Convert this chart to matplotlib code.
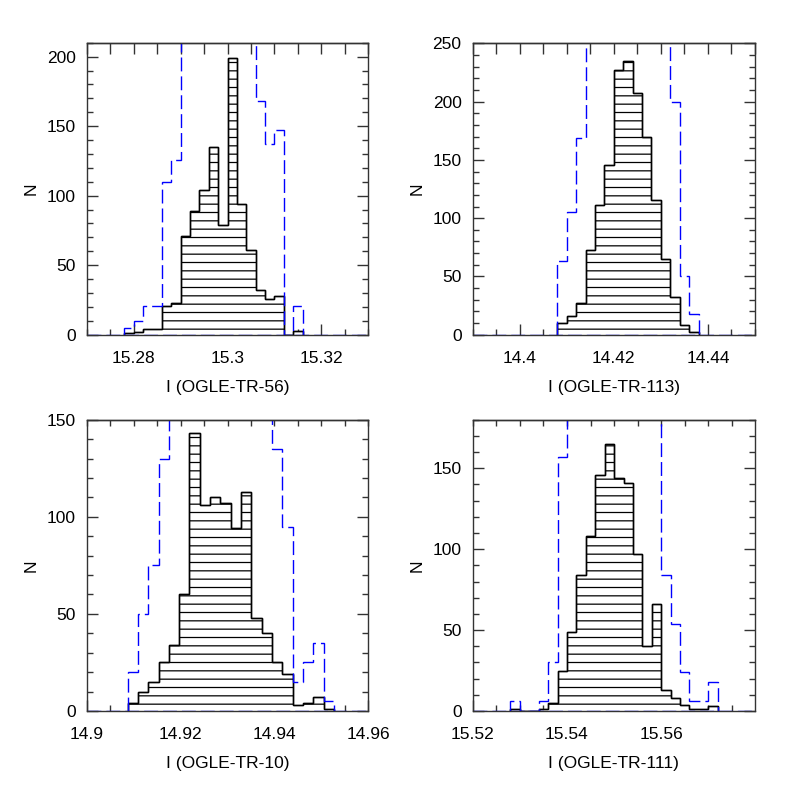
import matplotlib
matplotlib.use("Agg")
import matplotlib.pyplot as plt
import numpy as np
from matplotlib.ticker import MultipleLocator, FixedLocator, NullFormatter

plt.rcParams['font.family'] = ['Liberation Sans', 'DejaVu Sans']
plt.rcParams['font.size'] = 12.5
plt.rcParams['hatch.linewidth'] = 0.9
plt.rcParams['hatch.color'] = 'black'

# ---------------- data ----------------
# OGLE-TR-56
tr56_start = 15.278
tr56_width = 0.002
tr56_black = [1, 2, 4, 4, 21, 23, 71, 89, 104, 135, 79, 199, 94, 61, 32, 26, 28, 0, 3]
tr56_blue = [5, 10, 21, 21, 110, 126, 230, 280, 320, 340, 360, 330, 290, 240, 168, 137, 147, 0, 21]
tr56_xlim = (15.27, 15.33)
tr56_ylim = (0, 210)
tr56_xticks = [15.28, 15.30, 15.32]
tr56_xticklabels = ['15.28', '15.3', '15.32']
tr56_yticks = [0, 50, 100, 150, 200]

# OGLE-TR-113
tr113_start = 14.408
tr113_width = 0.002
tr113_black = [10, 16, 27, 73, 111, 146, 227, 235, 207, 170, 116, 65, 32, 8, 2]
tr113_blue = [63, 105, 169, 270, 320, 360, 380, 390, 370, 340, 300, 260, 200, 50, 18]
tr113_xlim = (14.39, 14.45)
tr113_ylim = (0, 250)
tr113_xticks = [14.40, 14.42, 14.44]
tr113_xticklabels = ['14.4', '14.42', '14.44']
tr113_yticks = [0, 50, 100, 150, 200, 250]

# OGLE-TR-10
tr10_start = 14.9087
tr10_width = 0.0022
tr10_black = [4, 10, 15, 25, 34, 60, 143, 106, 110, 107, 94, 113, 48, 40, 25, 19, 3, 4, 7, 1]
tr10_blue = [20, 50, 75, 130, 170, 200, 220, 230, 235, 225, 215, 200, 180, 160, 135, 95, 15, 25, 35, 5]
tr10_xlim = (14.90, 14.96)
tr10_ylim = (0, 150)
tr10_xticks = [14.90, 14.92, 14.94, 14.96]
tr10_xticklabels = ['14.9', '14.92', '14.94', '14.96']
tr10_yticks = [0, 50, 100, 150]

# OGLE-TR-111
tr111_start = 15.528
tr111_width = 0.002
tr111_black = [1, 0, 0, 1, 5, 25, 49, 84, 108, 146, 165, 144, 141, 97, 40, 66, 13, 8, 4, 1, 1, 3]
tr111_blue = [6, 0, 0, 6, 30, 157, 200, 240, 280, 300, 310, 300, 280, 250, 220, 190, 84, 54, 24, 6, 6, 18]
tr111_xlim = (15.52, 15.5799)
tr111_ylim = (0, 180)
tr111_xticks = [15.52, 15.54, 15.56]
tr111_xticklabels = ['15.52', '15.54', '15.56']
tr111_yticks = [0, 50, 100, 150]

panels = [
    ("I (OGLE-TR-56)", tr56_start, tr56_width, tr56_black, tr56_blue, tr56_xlim, tr56_ylim,
     tr56_xticks, tr56_xticklabels, tr56_yticks, [0.1088, 0.5800, 0.3533, 0.3664], True),
    ("I (OGLE-TR-113)", tr113_start, tr113_width, tr113_black, tr113_blue, tr113_xlim, tr113_ylim,
     tr113_xticks, tr113_xticklabels, tr113_yticks, [0.5931, 0.5800, 0.3542, 0.3656], True),
    ("I (OGLE-TR-10)", tr10_start, tr10_width, tr10_black, tr10_blue, tr10_xlim, tr10_ylim,
     tr10_xticks, tr10_xticklabels, tr10_yticks, [0.1088, 0.1079, 0.3533, 0.3655], False),
    ("I (OGLE-TR-111)", tr111_start, tr111_width, tr111_black, tr111_blue, tr111_xlim, tr111_ylim,
     tr111_xticks, tr111_xticklabels, tr111_yticks, [0.5931, 0.1079, 0.3542, 0.3655], False),
]

fig = plt.figure(figsize=(7.97, 7.97), dpi=100)

spine_color = '#333333'
dash = (0, (10, 3.6))

for (xlabel, start, width, black, blue, xlim, ylim, xticks, xticklabels, yticks, pos, toprow) in panels:
    ax = fig.add_axes(pos)
    edges_b = start + width * np.arange(len(black) + 1)
    edges_u = start + width * np.arange(len(blue) + 1)

    ax.stairs(black, edges_b, baseline=0, fill=True, facecolor='white',
              edgecolor='black', hatch='--', linewidth=1.0, zorder=2)
    ax.stairs(black, edges_b, baseline=0, fill=False, color='black', linewidth=1.0, zorder=3)
    ax.stairs(blue, edges_u, baseline=0, fill=False, color='#0000ff',
              linewidth=1.0, linestyle=dash, zorder=4)
    ax.axhline(0, color='#0000ff', linewidth=1.0, linestyle=dash, zorder=4)

    ax.set_xlim(*xlim)
    ax.set_ylim(*ylim)

    ax.xaxis.set_major_locator(FixedLocator(xticks))
    ax.set_xticklabels(xticklabels)
    ax.xaxis.set_minor_locator(MultipleLocator(0.005))
    ax.yaxis.set_major_locator(FixedLocator(yticks))
    ax.yaxis.set_minor_locator(MultipleLocator(10))

    ax.tick_params(axis='x', which='both', direction='in', bottom=True, top=False,
                   color=spine_color, width=1.0)
    ax.tick_params(axis='x', which='major', length=7.7, pad=11.5)
    ax.tick_params(axis='x', which='minor', length=4.2)
    ax.tick_params(axis='y', which='both', direction='in', left=True, right=True,
                   color=spine_color, width=1.0)
    ax.tick_params(axis='y', which='major', length=7.7, pad=8)
    ax.tick_params(axis='y', which='minor', length=4.1)

    sec = ax.secondary_xaxis('top')
    sec.xaxis.set_major_locator(MultipleLocator(0.005))
    sec.xaxis.set_major_formatter(NullFormatter())
    sec.tick_params(axis='x', which='major', direction='in',
                    length=(8.0 if toprow else 4.2), color=spine_color, width=1.0)
    sec.tick_params(axis='x', which='minor', length=0)
    for sp in sec.spines.values():
        sp.set_color(spine_color)
        sp.set_linewidth(1.0)

    for sp in ax.spines.values():
        sp.set_color(spine_color)
        sp.set_linewidth(1.0)
        sp.set_zorder(5)

    ax.set_xlabel(xlabel, labelpad=10)
    ax.set_ylabel('N', labelpad=5.6)

fig.savefig('out.png', dpi=100)
